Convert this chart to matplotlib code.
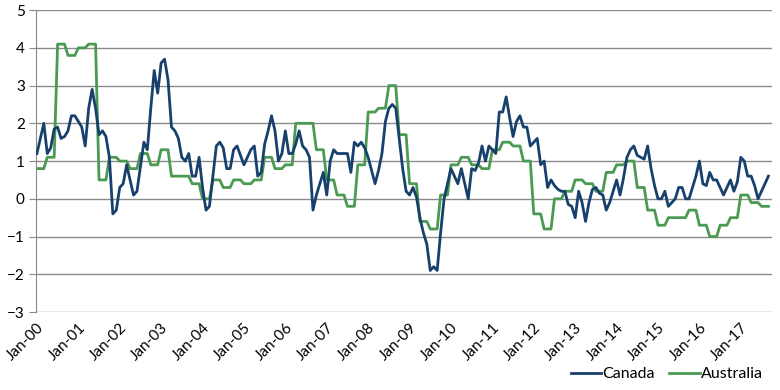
import numpy as np
import matplotlib.pyplot as plt

# monthly series, Jan 2000 - Sep 2017
canada = [1.2, 1.6, 2.0, 1.2, 1.35, 1.85, 1.9, 1.6, 1.65, 1.8, 2.2, 2.2,
          2.05, 1.9, 1.4, 2.4, 2.9, 2.4, 1.7, 1.8, 1.65, 1.1, -0.4, -0.3,
          0.3, 0.4, 0.9, 0.5, 0.1, 0.2, 0.85, 1.5, 1.3, 2.4, 3.4, 2.8,
          3.6, 3.7, 3.15, 1.9, 1.8, 1.6, 1.1, 1.0, 1.2, 0.6, 0.6, 1.1,
          0.3, -0.3, -0.2, 0.6, 1.4, 1.5, 1.35, 0.8, 0.8, 1.3, 1.4, 1.15,
          0.9, 1.1, 1.3, 1.4, 0.6, 0.7, 1.45, 1.8, 2.2, 1.8, 1.0, 1.2,
          1.8, 1.2, 1.2, 1.45, 1.8, 1.4, 1.3, 1.1, -0.3, 0.1, 0.4, 0.7,
          0.1, 1.0, 1.3, 1.2, 1.2, 1.2, 1.2, 0.7, 1.5, 1.4, 1.5, 1.35,
          1.1, 0.75, 0.4, 0.75, 1.2, 2.05, 2.4, 2.5, 2.4, 1.6, 0.8, 0.2,
          0.1, 0.3, 0.05, -0.5, -0.9, -1.2, -1.9, -1.8, -1.9, -0.9, 0.0, 0.4,
          0.8, 0.6, 0.4, 0.8, 0.4, 0.0, 0.8, 0.75, 0.95, 1.4, 1.0, 1.4,
          1.3, 1.2, 2.3, 2.3, 2.7, 2.15, 1.65, 2.05, 2.2, 1.9, 1.9, 1.4,
          1.5, 1.6, 0.9, 1.0, 0.3, 0.5, 0.35, 0.25, 0.2, 0.2, -0.15, -0.2,
          -0.5, 0.2, -0.1, -0.6, -0.1, 0.25, 0.3, 0.15, 0.1, -0.3, -0.1, 0.2,
          0.5, 0.1, 0.55, 1.1, 1.3, 1.4, 1.15, 1.1, 1.05, 1.4, 0.8, 0.35,
          0.0, 0.0, 0.2, -0.2, -0.1, 0.0, 0.3, 0.3, 0.0, 0.0, 0.3, 0.6,
          1.0, 0.4, 0.35, 0.7, 0.5, 0.5, 0.3, 0.1, 0.3, 0.5, 0.2, 0.45,
          1.1, 1.0, 0.6, 0.6, 0.35, 0.0, 0.2, 0.4, 0.6]

# quarterly series, 2000Q1 - 2017Q3 (each quarter held for three months)
australia_q = [0.8, 1.1, 4.1, 3.8, 4.0, 4.1, 0.5, 1.1, 1.0, 0.8, 1.2, 0.9,
               1.3, 0.6, 0.6, 0.4, 0.0, 0.5, 0.3, 0.5, 0.4, 0.5, 1.1, 0.8,
               0.9, 2.0, 2.0, 1.3, 0.5, 0.1, -0.2, 0.9, 2.3, 2.4, 3.0, 1.7,
               0.4, -0.6, -0.8, 0.1, 0.9, 1.1, 0.9, 0.8, 1.3, 1.5, 1.4, 1.0,
               -0.4, -0.8, 0.0, 0.2, 0.5, 0.4, 0.2, 0.7, 0.9, 1.0, 0.3, -0.3,
               -0.7, -0.5, -0.5, -0.3, -0.7, -1.0, -0.7, -0.5, 0.1, -0.1, -0.2]
australia = np.repeat(australia_q, 3)

tick_labels = ['Jan-00', 'Jan-01', 'Jan-02', 'Jan-03', 'Jan-04', 'Jan-05',
               'Jan-06', 'Jan-07', 'Jan-08', 'Jan-09', 'Jan-10', 'Jan-11',
               'Jan-12', 'Jan-13', 'Jan-14', 'Jan-15', 'Jan-16', 'Jan-17']

plt.rcParams['font.family'] = ['Lato', 'DejaVu Sans']

fig = plt.figure(figsize=(7.8, 3.9), dpi=100)
ax = fig.add_axes([0.046, 0.2, 0.944, 0.774])

x = np.arange(len(canada))
ax.plot(x, canada, color='#17406d', lw=2.0, label='Canada', zorder=3)
ax.plot(x, australia, color='#4a9a52', lw=2.0, label='Australia', zorder=2)

ax.set_ylim(-3, 5)
ax.set_yticks(range(-3, 6))
ax.set_xlim(-0.3, 213.1)
ax.set_xticks(np.arange(0, len(canada), 12))
ax.set_xticklabels(tick_labels, rotation=45, ha='right', rotation_mode='anchor')

ax.grid(axis='y', color='#8a8a8a', lw=1.0)
ax.set_axisbelow(True)
for s in ['top', 'right', 'bottom']:
    ax.spines[s].set_visible(False)
ax.spines['left'].set_color('#8a8a8a')
ax.tick_params(axis='y', length=5, color='#8a8a8a', labelsize=11, pad=3)
ax.tick_params(axis='x', length=0, labelsize=11, pad=6)

fig.legend(loc='lower right', bbox_to_anchor=(0.997, -0.015), ncol=2,
           frameon=False, fontsize=11.5, handlelength=1.9, handletextpad=0.1,
           columnspacing=0.9)

fig.savefig('out.png', dpi=100)
